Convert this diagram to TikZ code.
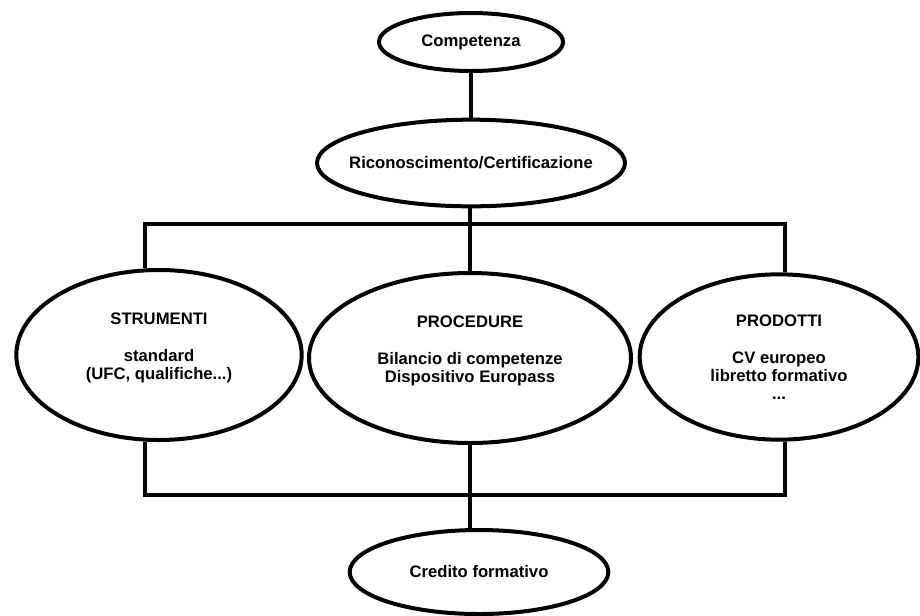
\documentclass[tikz,border=0pt]{standalone}
\usepackage{fontspec}
\setmainfont{Liberation Sans}
\usepackage{tikz}
\usetikzlibrary{positioning,shapes,arrows.meta}
\tikzstyle{bubble}=[%
      ellipse, draw=black, line width=3pt, fill=none,
      inner sep=0pt, align=center, font=\fontsize{12.5}{13.5}\selectfont\bfseries
]
\tikzstyle{wire}=[%
      draw=black, line width=3pt, line cap=rect
]

\begin{document}
\begin{tikzpicture}[x=0.75pt, y=-0.75pt]
    \useasboundingbox (0,0) rectangle (920,615);

    \node[bubble, minimum width=138pt, minimum height=43.5pt] (comp) at (471,42) {Competenza};
    \node[bubble, minimum width=231pt, minimum height=65pt, inner xsep=-14pt] (ric) at (471,163) {Riconoscimento/Certificazione};
    \node[bubble, minimum width=214pt, minimum height=127.5pt] (strumenti) at (159,355)
        {STRUMENTI\\[14pt]standard\\(UFC, qualifiche...)\\\mbox{}};
    \node[bubble, minimum width=241.5pt, minimum height=127.5pt] (procedure) at (470,358)
        {PROCEDURE\\[14pt]Bilancio di competenze\\Dispositivo Europass\\\mbox{}};
    \node[bubble, minimum width=209pt, minimum height=124pt] (prodotti) at (779,357)
        {PRODOTTI\\[14pt]CV europeo\\libretto formativo\\...};
    \node[bubble, minimum width=194pt, minimum height=63pt] (credito) at (479,572) {Credito formativo};

    % bars of the tree
    \coordinate (tl) at (145,224);
    \coordinate (tr) at (785,224);
    \coordinate (bl) at (145,495);
    \coordinate (br) at (785,495);

    \draw[wire] (comp) -- (ric);
    \draw[wire] (procedure.north |- ric.south) -- (procedure.north);
    \draw[wire, line cap=butt] (tl |- strumenti.north) -- (tl) -- (tr) -- (tr |- prodotti.north);
    \draw[wire, line cap=butt] (bl |- strumenti.south) -- (bl) -- (br) -- (br |- prodotti.south);
    \draw[wire] (procedure.south) -- (procedure.south |- credito.north);

  \end{tikzpicture}
\end{document}
